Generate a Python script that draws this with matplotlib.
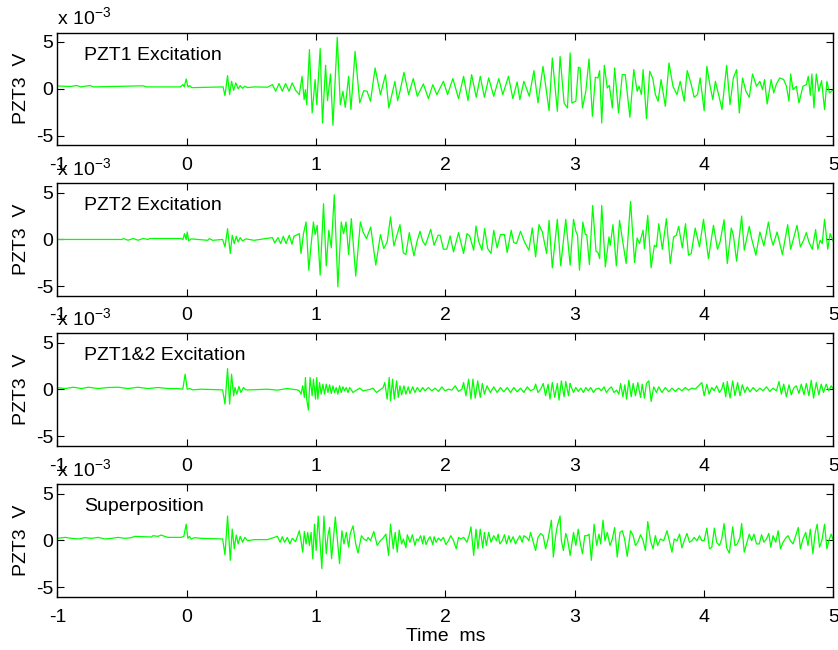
import matplotlib
matplotlib.use("Agg")
import matplotlib.pyplot as plt

plt.rcParams['font.family'] = ['Liberation Sans', 'DejaVu Sans']
plt.rcParams['mathtext.fontset'] = 'custom'
plt.rcParams['mathtext.rm'] = 'Liberation Sans'
plt.rcParams['mathtext.it'] = 'Liberation Sans:italic'
plt.rcParams['axes.unicode_minus'] = False

# Time axis (ms) and PZT3 response (x 1e-3 V), one list of (t, v) samples per excitation case
pzt1_excitation = [
    (-1.00, 0.30), (-0.90, 0.25), (-0.85, 0.35), (-0.82, 0.20), (-0.75, 0.35), (-0.72, 0.20),
    (-0.34, 0.32), (-0.31, 0.20), (-0.05, 0.20), (-0.03, 0.45), (-0.02, 0.20), (-0.005, 1.05),
    (0.008, 0.20), (0.023, 0.34), (0.038, 0.12), (0.28, 0.20), (0.295, -0.73), (0.315, 1.41),
    (0.331, -0.62), (0.346, 0.80), (0.362, -0.16), (0.379, 0.63), (0.397, 0.00), (0.413, 0.34),
    (0.431, 0.05), (0.449, 0.27), (0.469, 0.13), (0.521, 0.20), (0.623, 0.17), (0.662, 0.45),
    (0.687, -0.26), (0.713, 0.56), (0.738, -0.26), (0.764, 0.56), (0.790, -0.26), (0.815, 0.63),
    (0.841, -0.16),
    (0.870, -0.62), (0.891, 1.33), (0.907, -1.16), (0.917, -0.09), (0.927, -1.69), (0.948, 4.18),
    (0.969, -2.58), (0.992, 0.98), (1.005, -1.69), (1.031, 4.29), (1.049, -3.65), (1.073, 2.51),
    (1.088, -1.26), (1.111, 1.58), (1.130, -3.90), (1.163, 5.50), (1.187, -1.69), (1.207, -0.27),
    (1.225, -1.98), (1.251, 1.33), (1.269, -2.22), (1.301, 4.00), (1.337, -1.51), (1.368, -0.20),
    (1.394, -0.27), (1.420, -1.33), (1.456, 2.22), (1.497, -0.62), (1.536, 1.51), (1.562, -2.05),
    (1.609, 0.80), (1.630, -1.26), (1.648, -0.27), (1.679, 1.76), (1.715, -0.62), (1.751, 1.09),
    (1.782, -0.80), (1.829, 0.52), (1.868, -1.05), (1.902, 0.44), (1.933, -0.62), (1.984, 0.80),
    (2.016, -0.62), (2.057, 1.09), (2.101, -1.05), (2.140, 1.33), (2.174, -1.26), (2.202, 1.51),
    (2.238, -0.91), (2.269, 1.33), (2.301, -0.91), (2.334, 1.16), (2.373, -0.80), (2.412, 1.09),
    (2.443, -0.62), (2.487, 1.33), (2.521, -1.05), (2.554, 0.73), (2.575, -1.16), (2.606, 0.80),
    (2.648, -0.80), (2.684, 1.94), (2.715, -1.51), (2.754, 2.40), (2.801, -2.33), (2.826, 3.29),
    (2.865, -2.40), (2.886, 3.47), (2.917, -1.51), (2.943, -2.05), (2.964, 3.83),
    (2.977, -1.51), (3.008, -1.33), (3.028, 2.30), (3.041, 2.22), (3.059, -2.05), (3.085, -0.27),
    (3.110, 3.19), (3.136, -2.94), (3.159, 1.23), (3.179, 1.16), (3.192, 1.94), (3.208, -3.65),
    (3.228, 2.51), (3.251, 0.09), (3.267, 0.37), (3.290, -2.05), (3.308, 2.22), (3.338, -2.58),
    (3.367, 1.51), (3.390, 1.51), (3.426, -3.04), (3.456, 2.05), (3.482, -0.27), (3.497, 0.27),
    (3.515, -0.62), (3.528, 2.05), (3.554, -3.19), (3.579, 1.87), (3.603, 1.09), (3.623, -0.62),
    (3.644, -1.33), (3.667, 0.98), (3.700, -1.87), (3.728, 2.76), (3.759, 0.27), (3.790, -0.62),
    (3.815, 0.80), (3.846, -1.33), (3.869, 1.94), (3.897, 0.62), (3.923, -0.91), (3.949, -0.62),
    (3.969, 1.16), (4.000, -2.33), (4.021, 2.40), (4.044, 0.44), (4.067, -1.16), (4.087, 0.80),
    (4.118, -0.98), (4.138, -2.22), (4.174, 2.51), (4.200, -1.69), (4.226, 1.16), (4.251, 2.05),
    (4.272, -2.58), (4.297, 1.16), (4.323, -0.27), (4.349, -0.91), (4.374, 1.58), (4.405, 0.27),
    (4.431, 0.80), (4.451, -0.09), (4.467, 0.98), (4.487, -1.62), (4.518, 0.98), (4.538, -0.44),
    (4.559, 0.52), (4.585, 1.16), (4.615, 0.98), (4.636, 0.27), (4.656, -1.33), (4.669, 1.58),
    (4.687, -0.09), (4.713, 0.27), (4.733, -1.51), (4.764, 0.27), (4.790, 0.44), (4.805, 1.33),
    (4.821, -0.69), (4.833, 1.58), (4.849, -2.05), (4.867, 1.58), (4.887, -0.27), (4.908, 0.87),
    (4.931, -2.22), (4.949, 0.80), (4.969, -0.44), (5.000, -0.09),
]

pzt2_excitation = [
    (-1.00, 0.00), (-0.50, 0.00), (-0.49, 0.10), (-0.455, -0.08), (-0.415, 0.10), (-0.377, -0.08),
    (-0.338, 0.10), (-0.300, 0.00), (-0.287, 0.10), (-0.044, 0.10), (-0.030, -0.01), (-0.018, 0.62),
    (-0.005, -0.01), (0.003, 0.80), (0.015, -0.16), (0.033, 0.06), (0.085, 0.00), (0.162, -0.09),
    (0.174, 0.09), (0.200, -0.09), (0.277, 0.00), (0.295, -0.80), (0.315, 1.15), (0.336, -1.50),
    (0.351, 0.45), (0.367, -0.45), (0.382, 0.34), (0.397, -0.27), (0.413, 0.20), (0.431, -0.16),
    (0.456, 0.06), (0.521, -0.09), (0.662, 0.20), (0.680, -0.37), (0.705, 0.20), (0.726, -0.44),
    (0.746, 0.34), (0.767, -0.44), (0.792, 0.45), (0.813, -0.51), (0.828, 0.34),
    (0.870, 0.62), (0.883, -1.50), (0.902, 0.62), (0.922, 1.87), (0.943, -3.28), (0.961, -0.55),
    (0.979, 1.87), (0.992, 0.52), (1.008, 1.51), (1.031, -3.81), (1.057, 3.82), (1.078, -2.82),
    (1.098, 0.98), (1.117, -0.90), (1.140, 4.77), (1.168, -5.05), (1.194, 1.87), (1.212, 0.62),
    (1.231, 1.87), (1.251, -1.61), (1.272, 2.22), (1.306, -3.91), (1.342, 1.87), (1.363, 0.80),
    (1.389, 0.09), (1.422, 1.33), (1.461, -2.74), (1.497, 0.52), (1.523, -0.97), (1.549, -0.26),
    (1.575, 2.40), (1.601, -0.69), (1.617, 0.09), (1.648, 1.58), (1.674, -1.43), (1.694, -1.61),
    (1.720, 0.73), (1.756, -1.75), (1.782, -0.09), (1.803, 0.87), (1.824, -0.19), (1.845, -0.62),
    (1.886, 1.09), (1.912, -0.62), (1.943, 0.45), (1.959, 0.45), (1.984, -1.04), (2.010, -1.04),
    (2.036, 0.38), (2.062, -1.33), (2.101, 0.73), (2.140, -1.50), (2.166, 0.62), (2.187, 0.38),
    (2.218, -1.15), (2.236, 1.44), (2.256, -0.19), (2.282, -1.15), (2.303, 1.16), (2.326, -0.97),
    (2.352, -1.50), (2.373, 0.98), (2.399, -0.90), (2.425, 0.52), (2.456, 0.52), (2.477, -1.40),
    (2.508, 0.98), (2.528, -0.33), (2.549, -0.44), (2.580, 0.87), (2.611, -0.26), (2.645, -1.15),
    (2.671, 1.23), (2.697, -1.86), (2.723, 1.58), (2.749, 0.80), (2.782, -1.50), (2.801, 2.04),
    (2.826, -3.03), (2.865, 2.15), (2.891, -2.82), (2.930, 2.15), (2.964, -2.74),
    (2.990, 2.15), (3.008, 0.87), (3.021, 0.44), (3.036, -3.28), (3.062, 1.86), (3.082, 0.51),
    (3.092, 0.51), (3.113, -2.68), (3.138, 3.63), (3.164, -1.26), (3.179, -1.40), (3.192, -2.04),
    (3.208, 3.63), (3.236, -2.93), (3.264, 0.27), (3.274, -0.62), (3.295, 1.58), (3.321, -2.82),
    (3.346, 2.04), (3.367, 0.09), (3.397, -2.57), (3.431, 4.06), (3.462, -2.46), (3.482, 0.16),
    (3.500, -0.44), (3.528, 0.98), (3.538, -0.98), (3.564, 2.57), (3.590, -3.03), (3.615, -0.62),
    (3.631, -0.80), (3.649, 1.68), (3.677, -1.05), (3.708, 2.22), (3.738, -2.57), (3.764, 0.27),
    (3.785, 0.44), (3.803, 1.40), (3.831, -0.90), (3.856, 1.68), (3.879, -1.68), (3.900, -1.51),
    (3.931, 1.22), (3.964, -0.80), (3.995, 2.15), (4.033, -2.04), (4.072, 1.51), (4.103, -1.05),
    (4.123, -0.27), (4.154, 2.11), (4.179, -2.57), (4.210, 1.22), (4.226, 0.44), (4.251, -2.32),
    (4.290, 2.50), (4.310, -1.15), (4.349, 1.40), (4.367, 0.09), (4.400, -1.68), (4.431, 0.80),
    (4.462, -0.69), (4.497, 1.86), (4.515, 0.27), (4.533, -0.62), (4.564, 0.80), (4.605, -1.61),
    (4.646, 1.58), (4.669, -1.05), (4.718, 1.51), (4.744, -0.80), (4.769, -0.09), (4.790, 0.73),
    (4.810, -0.27), (4.836, -1.05), (4.862, 1.05), (4.879, -1.05), (4.897, -0.09), (4.913, -0.44),
    (4.931, 2.15), (4.956, -1.05), (4.974, 0.62), (5.000, -0.27),
]

pzt12_excitation = [
    (-1.00, 0.20), (-0.941, 0.10), (-0.877, 0.24), (-0.813, 0.10), (-0.762, 0.24), (-0.685, 0.10),
    (-0.608, 0.21), (-0.531, 0.24), (-0.454, 0.10), (-0.377, 0.24), (-0.300, 0.10), (-0.223, 0.21),
    (-0.146, 0.10), (-0.069, 0.10), (-0.031, 0.03), (-0.013, 1.63), (0.003, 0.03), (0.021, 0.10),
    (0.046, -0.04), (0.110, 0.03), (0.277, -0.04), (0.295, -1.56), (0.315, 2.23), (0.331, -1.56),
    (0.346, 1.63), (0.362, -0.68), (0.372, 0.21), (0.387, -0.50), (0.403, 0.32), (0.418, -0.32),
    (0.438, 0.21), (0.456, -0.04), (0.495, -0.04), (0.623, 0.03), (0.700, -0.07), (0.777, 0.10),
    (0.854, -0.04),
    (0.870, -0.14), (0.883, -0.50), (0.896, 0.39), (0.909, -0.85), (0.917, 1.28), (0.927, -1.03),
    (0.940, -2.20), (0.953, 1.28), (0.969, -0.67), (0.979, 1.10), (0.995, -1.03), (1.005, 1.28),
    (1.013, -1.03), (1.026, 0.74), (1.039, -0.50), (1.052, 0.57), (1.065, -0.50), (1.078, 0.57),
    (1.091, -0.32), (1.104, 0.50), (1.117, -0.43), (1.130, 0.39), (1.142, -0.32), (1.155, 0.21),
    (1.168, -0.50), (1.181, 0.39), (1.194, -0.32), (1.207, 0.28), (1.220, -0.14), (1.233, 0.21),
    (1.246, -0.32), (1.259, 0.21), (1.285, -0.32), (1.311, -0.07), (1.337, 0.14), (1.363, -0.14),
    (1.389, -0.07), (1.415, 0.00), (1.440, 0.14), (1.466, -0.32), (1.492, -0.07), (1.518, 0.21),
    (1.531, 0.74), (1.549, -1.03), (1.565, 1.28), (1.575, -1.21), (1.591, 1.10), (1.604, -1.03),
    (1.622, 0.92), (1.635, -0.85), (1.648, 0.39), (1.661, -0.57), (1.679, 0.39), (1.694, -0.50),
    (1.712, 0.28), (1.725, -0.43), (1.746, 0.28), (1.764, -0.32), (1.782, 0.21), (1.803, -0.25),
    (1.824, 0.21), (1.842, -0.14), (1.868, 0.21), (1.894, -0.14), (1.920, 0.14), (1.946, -0.21),
    (1.972, 0.28), (1.997, -0.14), (2.023, 0.04), (2.049, -0.07), (2.075, 0.39), (2.101, -0.21),
    (2.127, 0.04), (2.140, 0.74), (2.158, -0.67), (2.179, 1.10), (2.197, -1.03), (2.212, 1.10),
    (2.230, -0.92), (2.249, 0.92), (2.269, -0.85), (2.285, 0.64), (2.301, -0.50), (2.321, 0.39),
    (2.347, -0.32), (2.373, 0.28), (2.399, -0.32), (2.425, 0.21), (2.451, -0.25), (2.477, 0.21),
    (2.503, -0.32), (2.528, 0.21), (2.554, -0.25), (2.580, 0.14), (2.606, -0.32), (2.632, 0.28),
    (2.658, -0.14), (2.684, 0.04), (2.697, 0.57), (2.715, -0.32), (2.736, 0.04), (2.756, 0.64),
    (2.774, -0.67), (2.793, 0.57), (2.808, -1.03), (2.826, 0.74), (2.845, -0.85), (2.865, 0.64),
    (2.878, -1.13), (2.896, 0.92), (2.917, -0.78), (2.930, 0.85), (2.951, -0.67), (2.964, 0.64),
    (2.969, 0.39), (2.990, -0.32), (3.008, 0.21), (3.026, -0.21), (3.046, 0.14), (3.067, -0.32),
    (3.085, 0.21), (3.103, -0.14), (3.123, 0.21), (3.144, -0.32), (3.162, 0.04), (3.187, 0.14),
    (3.205, -0.14), (3.226, 0.28), (3.244, -0.32), (3.264, 0.04), (3.282, 0.28), (3.303, -0.32),
    (3.323, -0.07), (3.341, -0.50), (3.354, 0.64), (3.372, -0.78), (3.387, 0.50), (3.400, -1.03),
    (3.418, 0.99), (3.436, -0.78), (3.451, 0.64), (3.469, -0.67), (3.487, 0.74), (3.508, -0.85),
    (3.521, 0.57), (3.538, -0.92), (3.554, 0.64), (3.572, 0.92), (3.590, -1.28), (3.610, 0.28),
    (3.631, -0.32), (3.649, 0.28), (3.674, -0.32), (3.700, 0.21), (3.726, -0.25), (3.751, 0.14),
    (3.777, -0.21), (3.803, 0.14), (3.828, -0.14), (3.854, 0.21), (3.879, -0.07), (3.905, 0.14),
    (3.931, 0.04), (3.956, 0.39), (3.982, 0.74), (4.000, -0.67), (4.021, 0.57), (4.038, -0.50),
    (4.059, 0.21), (4.077, -0.14), (4.097, 0.39), (4.118, -0.32), (4.136, 0.04), (4.149, 0.74),
    (4.167, -0.78), (4.179, 0.85), (4.200, -0.92), (4.221, 0.92), (4.238, -0.67), (4.259, 0.74),
    (4.277, -0.67), (4.295, 0.50), (4.315, -0.32), (4.333, 0.28), (4.354, -0.25), (4.379, 0.21),
    (4.405, -0.21), (4.431, 0.14), (4.456, -0.14), (4.482, 0.28), (4.508, -0.21), (4.533, 0.14),
    (4.559, -0.14), (4.579, 0.85), (4.597, -0.50), (4.615, 0.57), (4.636, -0.78), (4.656, 0.50),
    (4.674, -0.57), (4.692, 0.14), (4.713, 0.39), (4.733, -0.43), (4.751, 0.57), (4.772, -0.57),
    (4.790, 0.64), (4.810, -0.67), (4.828, 0.99), (4.846, -0.92), (4.867, 0.74), (4.887, -0.57),
    (4.905, 0.57), (4.923, -0.32), (4.944, 0.57), (4.964, -0.14), (4.982, 0.39), (5.000, 0.04),
]

superposition = [
    (-1.00, 0.23), (-0.941, 0.33), (-0.890, 0.23), (-0.838, 0.16), (-0.787, 0.30), (-0.736, 0.23),
    (-0.685, 0.33), (-0.633, 0.16), (-0.582, 0.23), (-0.531, 0.33), (-0.479, 0.23), (-0.428, 0.30),
    (-0.403, 0.44), (-0.274, 0.37), (-0.262, 0.51), (-0.223, 0.44), (-0.197, 0.58), (-0.172, 0.44),
    (-0.146, 0.33), (-0.044, 0.33), (-0.023, 0.44), (-0.005, 1.74), (0.008, 0.23), (0.021, 0.44),
    (0.033, 0.16), (0.059, 0.30), (0.110, 0.23), (0.277, 0.16), (0.295, -1.53), (0.315, 2.61),
    (0.336, -2.12), (0.351, 1.21), (0.367, -0.89), (0.382, 0.58), (0.397, -0.37), (0.413, 0.44),
    (0.431, -0.19), (0.449, 0.33), (0.469, -0.02), (0.521, 0.09), (0.623, 0.09), (0.700, 0.44),
    (0.721, -0.19), (0.738, 0.40), (0.756, -0.19), (0.777, 0.33), (0.797, -0.37), (0.815, 0.23),
    (0.841, -0.12),
    (0.870, 1.04), (0.883, -0.02), (0.896, -1.25), (0.909, 0.96), (0.922, -0.37), (0.935, 0.86),
    (0.948, -0.54), (0.961, 0.86), (0.974, -1.95), (0.987, 1.74), (1.000, -1.07), (1.016, 2.61),
    (1.031, -0.37), (1.044, -3.00), (1.060, 2.61), (1.078, -1.42), (1.091, 0.51), (1.104, 1.39),
    (1.119, -1.95), (1.130, -0.37), (1.148, 2.51), (1.168, -0.54), (1.181, -2.47), (1.199, 1.04),
    (1.215, -0.37), (1.233, 0.86), (1.251, -0.72), (1.264, 0.75), (1.285, 1.56), (1.306, -0.37),
    (1.324, -1.35), (1.350, 0.51), (1.368, 0.16), (1.389, -0.02), (1.402, 0.33), (1.420, -0.02),
    (1.446, 0.96), (1.472, -0.54), (1.497, -0.02), (1.518, 0.26), (1.539, 0.68), (1.560, -1.60),
    (1.575, 1.74), (1.596, -0.89), (1.611, 0.86), (1.627, -1.25), (1.642, 1.11), (1.661, -0.37),
    (1.674, 0.16), (1.694, -0.79), (1.705, 0.61), (1.725, -0.19), (1.744, 0.61), (1.764, -0.54),
    (1.777, 0.16), (1.790, -0.02), (1.808, 0.51), (1.824, -0.37), (1.834, 0.51), (1.850, -0.44),
    (1.868, 0.16), (1.881, 0.40), (1.902, -0.44), (1.912, 0.40), (1.927, -0.19), (1.946, 0.26),
    (1.964, -0.02), (1.984, 0.33), (2.003, -0.44), (2.023, -0.02), (2.041, 0.51), (2.062, -0.02),
    (2.083, -0.89), (2.101, 0.33), (2.119, 0.16), (2.140, 0.33), (2.166, -0.19), (2.184, 0.61),
    (2.197, 1.46), (2.218, -1.60), (2.236, 1.21), (2.251, -0.89), (2.269, 1.21), (2.288, -0.79),
    (2.301, 0.86), (2.316, -0.54), (2.334, 0.86), (2.352, -0.19), (2.373, 0.51), (2.394, -0.02),
    (2.407, 0.68), (2.420, -0.37), (2.438, -0.02), (2.456, 0.61), (2.472, -0.37), (2.490, 0.51),
    (2.503, -0.19), (2.523, 0.40), (2.541, -0.37), (2.560, 0.16), (2.575, 0.51), (2.593, -0.19),
    (2.606, 0.51), (2.627, 0.33), (2.645, -0.02), (2.658, 0.86), (2.679, -0.19), (2.697, -1.07),
    (2.715, 0.33), (2.736, 0.75), (2.756, 0.51), (2.774, -0.89), (2.793, 0.16), (2.819, 2.16),
    (2.834, -1.77), (2.852, 0.51), (2.865, 1.56), (2.886, 2.61), (2.896, -0.02), (2.912, -1.07),
    (2.930, 0.75), (2.943, 0.16), (2.964, -1.60),
    (2.990, 0.86), (3.008, -0.54), (3.026, 1.21), (3.041, -0.19), (3.059, -1.42), (3.077, 0.51),
    (3.097, 0.51), (3.110, 0.68), (3.128, -2.12), (3.149, 1.74), (3.169, -0.54), (3.187, 0.68),
    (3.200, -0.37), (3.218, 2.16), (3.233, -0.02), (3.251, 0.86), (3.272, -0.54), (3.290, 0.16),
    (3.308, 1.39), (3.328, -1.77), (3.349, 0.86), (3.367, 1.04), (3.385, 0.16), (3.405, -1.70),
    (3.431, 1.04), (3.451, 0.51), (3.469, -0.54), (3.487, -0.19), (3.508, 0.61), (3.528, -0.02),
    (3.546, -1.07), (3.564, 2.02), (3.585, -0.02), (3.605, -0.89), (3.623, 0.51), (3.641, -0.54),
    (3.662, 0.16), (3.687, -0.02), (3.713, 1.04), (3.733, -0.19), (3.751, -1.25), (3.769, 0.16),
    (3.790, -0.02), (3.810, 0.68), (3.828, -0.79), (3.846, -0.02), (3.867, 0.75), (3.887, -0.19),
    (3.905, -0.02), (3.923, 0.33), (3.944, -0.02), (3.964, 0.51), (3.982, -0.02), (4.000, -0.02),
    (4.021, 1.32), (4.041, -0.89), (4.059, -0.72), (4.079, 1.32), (4.097, -0.19), (4.118, -0.54),
    (4.136, 0.16), (4.154, 1.81), (4.174, -0.79), (4.195, -1.35), (4.221, 1.46), (4.238, -0.54),
    (4.256, -0.37), (4.277, 0.33), (4.290, 1.81), (4.310, -1.25), (4.328, -0.37), (4.349, 0.68),
    (4.367, -0.02), (4.385, 0.68), (4.405, -0.37), (4.426, -0.37), (4.444, 0.61), (4.462, -0.19),
    (4.482, 0.16), (4.500, 0.75), (4.515, -0.72), (4.533, 0.51), (4.554, -0.19), (4.572, 1.04),
    (4.590, -0.89), (4.610, -0.19), (4.631, 0.26), (4.649, 0.51), (4.667, -0.02), (4.687, -0.37),
    (4.708, 0.51), (4.728, 1.39), (4.744, -0.89), (4.764, 0.16), (4.785, 0.86), (4.803, -0.54),
    (4.821, 1.21), (4.841, -1.42), (4.859, 0.86), (4.874, 1.74), (4.892, -0.72), (4.910, -0.02),
    (4.931, 1.74), (4.949, -0.89), (4.964, -0.02), (4.982, 0.68), (5.000, -0.02),
]

panel_labels = ['PZT1 Excitation', 'PZT2 Excitation', 'PZT1&2 Excitation', 'Superposition']
panel_series = [pzt1_excitation, pzt2_excitation, pzt12_excitation, superposition]
x_ticks = [-1, 0, 1, 2, 3, 4, 5]
y_ticks = [-5, 0, 5]

fig = plt.figure(figsize=(8.38, 6.5), dpi=100)
fig.patch.set_facecolor('white')

left, width, height = 0.0686, 0.926, 0.173
bottoms = [0.7769, 0.5451, 0.3143, 0.0820]

axes = []
for series, label, bottom in zip(panel_series, panel_labels, bottoms):
    ax = fig.add_axes([left, bottom, width, height])
    t, v = zip(*series)
    ax.plot(t, v, color='#00ff00', linewidth=0.9)
    ax.set_xlim(-1, 5)
    ax.set_ylim(-6, 6)
    ax.set_xticks(x_ticks)
    ax.set_yticks(y_ticks)
    ax.tick_params(direction='in', top=True, right=True, length=5, width=0.8,
                   labelsize=14, colors='black')
    ax.tick_params(axis='x', pad=8.5)
    ax.tick_params(axis='y', pad=3)
    for sp in ax.spines.values():
        sp.set_linewidth(1.0)
    ax.set_ylabel('PZT3  V', fontsize=14, labelpad=4)
    ax.text(0.034, 0.76, label, transform=ax.transAxes, fontsize=14, va='baseline')
    ax.text(0.0, 1.074, r'x 10$^{-3}$', transform=ax.transAxes, fontsize=14, va='baseline')
    axes.append(ax)

axes[-1].set_xlabel('Time  ms', fontsize=14, labelpad=2)

fig.savefig('out.png', dpi=100, facecolor='white')
